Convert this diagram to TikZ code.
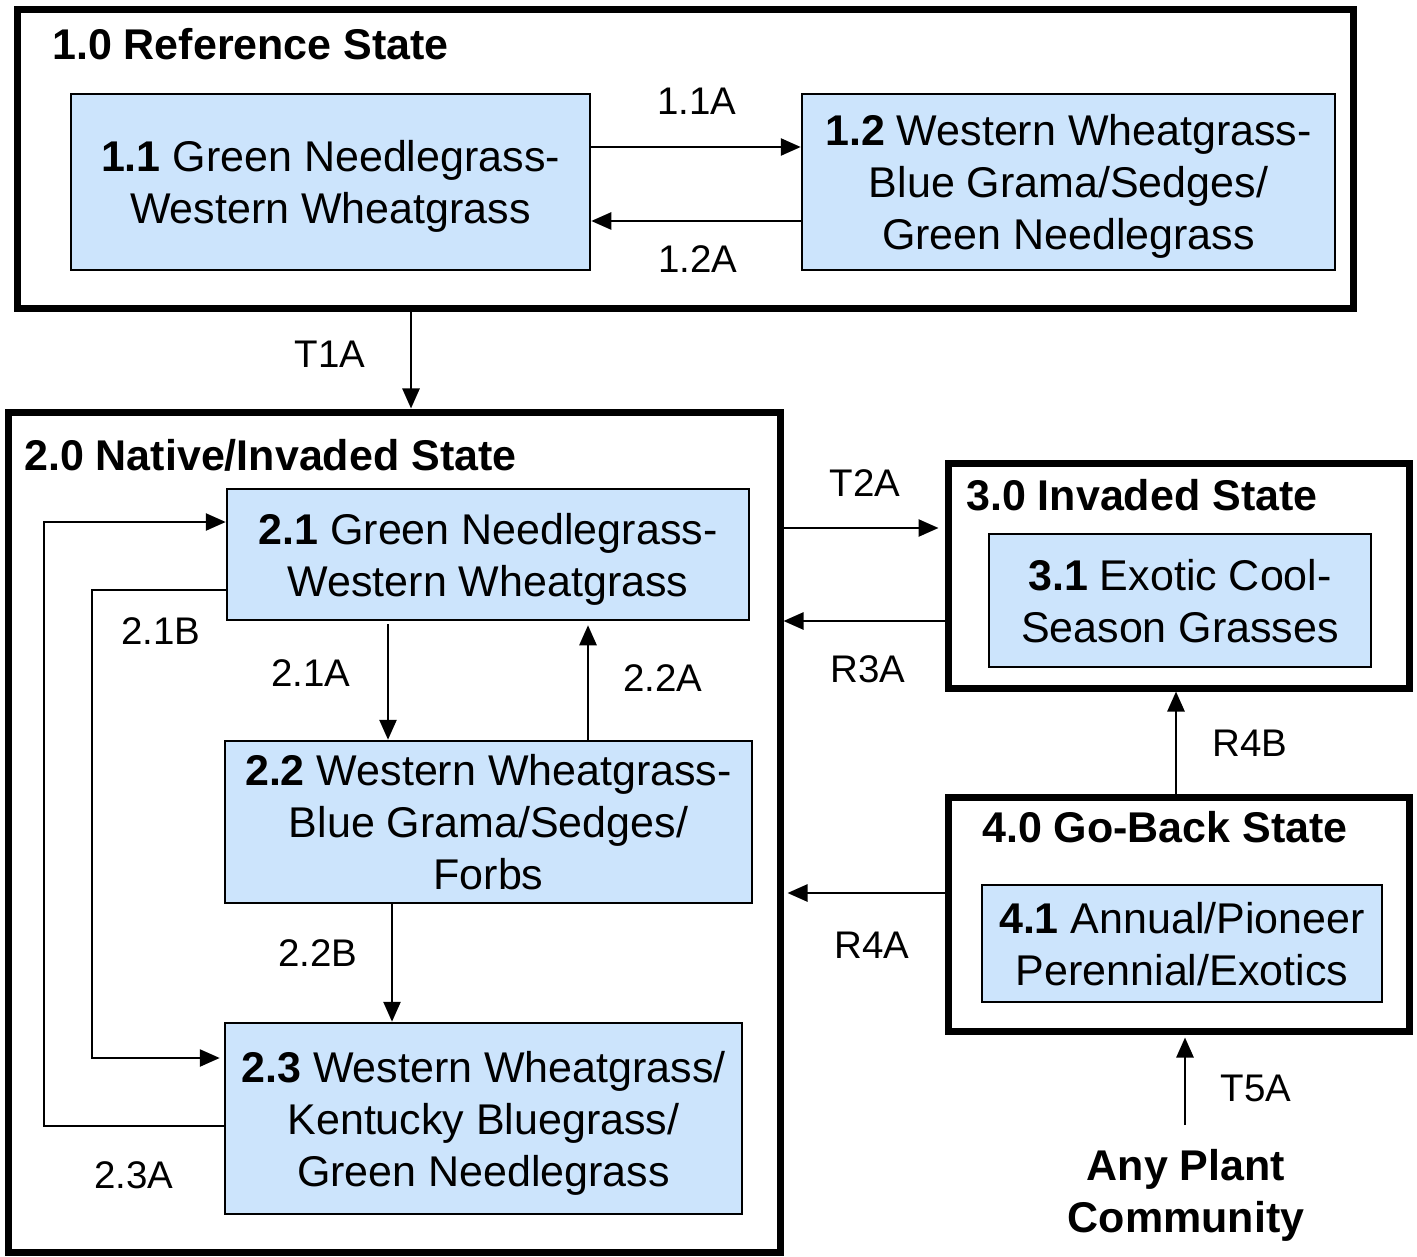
\documentclass[tikz,border=0pt]{standalone}
\usepackage{fontspec}
\setmainfont{Liberation Sans}
\usetikzlibrary{arrows.meta}
\definecolor{boxblue}{HTML}{CCE4FC}
\newcommand{\lnstrut}{\rule[-9pt]{0pt}{49pt}}
\begin{document}
\begin{tikzpicture}[x=1pt,y=-1pt,
  state/.style={draw=black,line width=7pt,inner sep=0pt},
  comm/.style={draw=black,line width=2.5pt,fill=boxblue,inner sep=0pt,align=center,font=\fontsize{43}{52}\selectfont},
  ttl/.style={anchor=base west,inner sep=0pt,font=\fontsize{43}{52}\selectfont\bfseries},
  lbl/.style={inner sep=0pt,font=\fontsize{38.5}{46}\selectfont},
  arr/.style={line width=2.6pt,-{Triangle[length=20pt,width=17pt]}}]
\fill[white] (0,0) rectangle (1417,1257);
\useasboundingbox (0,0) rectangle (1417,1257);

% state boxes
\node[state,minimum width=1336pt,minimum height=299pt] (s1) at (685,159.5) {};
\node[state,minimum width=772pt,minimum height=840pt] (s2) at (394,832) {};
\node[state,minimum width=461pt,minimum height=225pt] (s3) at (1178.5,575.5) {};
\node[state,minimum width=461pt,minimum height=234pt] (s4) at (1178.5,914) {};

% titles
\node[ttl] (t1) at (52,60) {1.0 Reference State};
\node[ttl] (t2) at (24,470) {2.0 Native/Invaded State};
\node[ttl] (t3) at (966,510) {3.0 Invaded State};
\node[ttl] (t4) at (982,842) {4.0 Go-Back State};

% community boxes
\node[comm,minimum width=519pt,minimum height=176pt] (b11) at (330.5,182)
  {\lnstrut\textbf{1.1} Green Needlegrass-\\\lnstrut Western Wheatgrass};
\node[comm,minimum width=533pt,minimum height=176pt] (b12) at (1068.5,182)
  {\lnstrut\textbf{1.2} Western Wheatgrass-\\\lnstrut Blue Grama/Sedges/\\\lnstrut Green Needlegrass};
\node[comm,minimum width=522pt,minimum height=131pt] (b21) at (488,554.5)
  {\lnstrut\textbf{2.1} Green Needlegrass-\\\lnstrut Western Wheatgrass};
\node[comm,minimum width=527pt,minimum height=162pt] (b22) at (488.5,822)
  {\lnstrut\textbf{2.2} Western Wheatgrass-\\\lnstrut Blue Grama/Sedges/\\\lnstrut Forbs};
\node[comm,minimum width=517pt,minimum height=191pt] (b23) at (483.5,1118.5)
  {\lnstrut\textbf{2.3} Western Wheatgrass/\\\lnstrut Kentucky Bluegrass/\\\lnstrut Green Needlegrass};
\node[comm,minimum width=382pt,minimum height=133pt] (b31) at (1180,600.5)
  {\lnstrut\textbf{3.1} Exotic Cool-\\\lnstrut Season Grasses};
\node[comm,minimum width=400pt,minimum height=117pt] (b41) at (1182,943.5)
  {\lnstrut\textbf{4.1} Annual/Pioneer\\\lnstrut Perennial/Exotics};

\node[inner sep=0pt,anchor=north,align=center,font=\fontsize{43}{52}\selectfont\bfseries] (apc) at (1186,1149)
  {Any Plant\\Community};

% arrows
\draw[arr] (b11.east |- 0,147) -- (b12.west |- 0,147);
\draw[arr] (b12.west |- 0,221) -- (b11.east |- 0,221);
\draw[arr] (s1.south -| 411,0) -- (s2.north -| 411,0);
\draw[arr,shorten >=6pt] (s2.east |- 0,528) -- (s3.west |- 0,528);
\draw[arr] (s3.west |- 0,621) -- (s2.east |- 0,621);
\draw[arr,shorten >=4pt] (s4.west |- 0,893) -- (s2.east |- 0,893);
\draw[arr] (s4.north -| 1176,0) -- (s3.south -| 1176,0);
\draw[arr,shorten <=24pt,shorten >=3pt] (apc.north -| 1185,0) -- (s4.south -| 1185,0);
\draw[arr,shorten <=3pt] (b21.south -| 388,0) -- (b22.north -| 388,0);
\draw[arr,shorten >=4pt] (b22.north -| 588,0) -- (b21.south -| 588,0);
\draw[arr] (b22.south -| 392,0) -- (b23.north -| 392,0);
\draw[arr,shorten >=4pt] (b21.west |- 0,590) -| (92,1058) -- (b23.west |- 0,1058);
\draw[arr] (b23.west |- 0,1126) -| (44,522) -- (b21.west |- 0,522);

% labels
\node[lbl] (l11a) at (697,101) {1.1A};
\node[lbl] (l12a) at (698,259) {1.2A};
\node[lbl] (lt1a) at (330,354) {T1A};
\node[lbl] (lt2a) at (865,483) {T2A};
\node[lbl] (lr3a) at (868,669) {R3A};
\node[lbl] (lr4b) at (1250,743) {R4B};
\node[lbl] (lr4a) at (872,945) {R4A};
\node[lbl] (lt5a) at (1256,1088) {T5A};
\node[lbl] (l21a) at (311,673) {2.1A};
\node[lbl] (l22a) at (663,678) {2.2A};
\node[lbl] (l22b) at (318,953) {2.2B};
\node[lbl] (l21b) at (161,631) {2.1B};
\node[lbl] (l23a) at (134,1175) {2.3A};
\end{tikzpicture}
\end{document}
